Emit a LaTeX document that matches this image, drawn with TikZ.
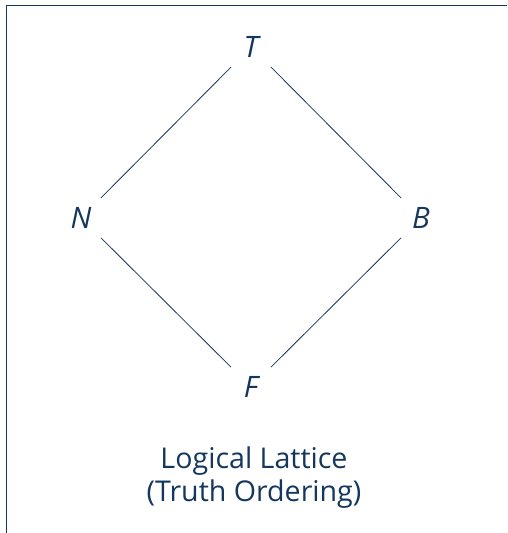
\documentclass[tikz,border=0pt]{standalone}
\usepackage{fontspec}
\setmainfont{Open Sans}
\definecolor{ltInk}{HTML}{14375E}

\begin{document}
\begin{tikzpicture}[
  x=1pt,y=1pt,
  font=\fontsize{28.6}{33.8}\selectfont,
  every node/.style={
    text=ltInk,align=center
  },
  value/.style={
    circle,
    minimum size=56pt,
    inner sep=0pt,
    font=\itshape\fontsize{29.5}{34}\selectfont
  },
  order/.style={
    draw=ltInk,
    line width=0.8pt
  }
]
\path[use as bounding box] (0,0) rectangle (507,533);

% Frame
\draw[ltInk,line width=1.3pt]
  (6.3,0) -- (6.3,527.5) -- (507,527.5);

% Four truth values
\foreach \name/\x/\y in {
  T/251/486,
  N/81/315,
  B/421/315,
  F/251/146
}{
  \node[value] (\name) at (\x,\y) {\name};
}

% Truth ordering
\draw[order] (T) -- (N);
\draw[order] (T) -- (B);
\draw[order] (N) -- (F);
\draw[order] (B) -- (F);

% Caption
\node (caption) at (254,55.5)
  {Logical Lattice\\(Truth Ordering)};

\end{tikzpicture}
\end{document}
